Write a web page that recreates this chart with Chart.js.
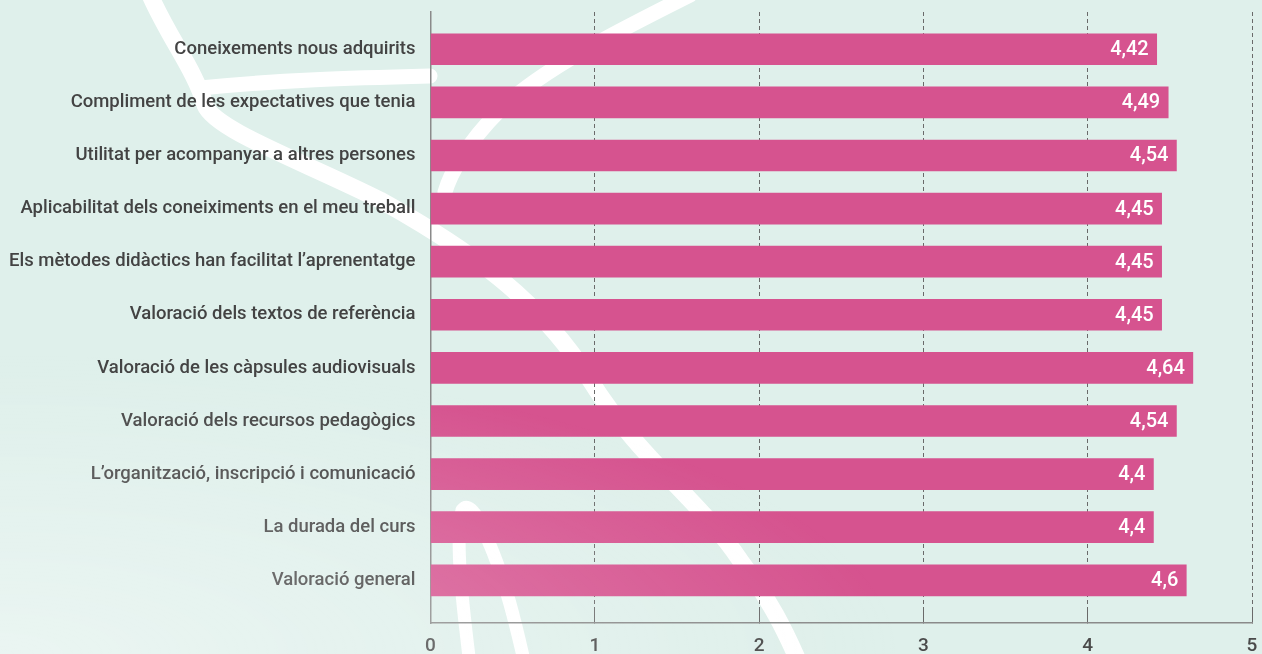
<!DOCTYPE html>
<html>
<head>
<meta charset="utf-8">
<script src="https://cdn.jsdelivr.net/npm/chart.js@4"></script>
<style>
html,body{margin:0;padding:0;}
body{width:1262px;height:654px;overflow:hidden;background:#dff0eb;position:relative;font-family:Roboto,sans-serif;}
#bg{position:absolute;left:0;top:0;}
#wrap{position:absolute;left:0;top:0;width:1262px;height:654px;}
#veil{position:absolute;left:0;top:0;width:1262px;height:654px;pointer-events:none;
  background:radial-gradient(ellipse 900px 300px at 0px 654px, rgba(255,255,255,0.36) 0%, rgba(255,255,255,0) 100%);}
</style>
</head>
<body>
<svg id="bg" width="1262" height="654" viewBox="0 0 1262 654">
  <g fill="none" stroke="#ffffff" stroke-linecap="round" stroke-linejoin="round">
    <path d="M150,-5 C170,40 195,70 205,105 C215,130 300,160 380,200 C470,250 540,300 590,380 C640,460 700,500 740,560 C770,600 785,630 800,665" stroke-width="17"/>
    <path d="M200,88 C280,80 350,78 430,76" stroke-width="15"/>
    <path d="M690,-5 C620,30 540,70 500,110 C465,145 450,175 445,192" stroke-width="15"/>
    <path d="M470,665 C462,600 455,540 462,510 C470,500 480,520 490,545 C505,580 515,620 525,665" stroke-width="13"/>
  </g>
</svg>
<div id="wrap"><canvas id="c" width="1262" height="654"></canvas></div>
<div id="veil"></div>
<script>
const categories = [
  "Coneixements nous adquirits",
  "Compliment de les expectatives que tenia",
  "Utilitat per acompanyar a altres persones",
  "Aplicabilitat dels coneiximents en el meu treball",
  "Els mètodes didàctics han facilitat l’aprenentatge",
  "Valoració dels textos de referència",
  "Valoració de les càpsules audiovisuals",
  "Valoració dels recursos pedagògics",
  "L’organització, inscripció i comunicació",
  "La durada del curs",
  "Valoració general"
];
const values = [4.42, 4.49, 4.54, 4.45, 4.45, 4.45, 4.64, 4.54, 4.4, 4.4, 4.6];
const xTicks = [0, 1, 2, 3, 4, 5];

const fmt = v => String(v).replace('.', ',');

const valueLabels = {
  id: 'valueLabels',
  afterDatasetsDraw(chart) {
    const ctx = chart.ctx;
    const meta = chart.getDatasetMeta(0);
    ctx.save();
    ctx.fillStyle = '#ffffff';
    ctx.font = '500 20px Roboto';
    ctx.textAlign = 'right';
    ctx.textBaseline = 'middle';
    meta.data.forEach((el, i) => {
      ctx.fillText(fmt(values[i]), el.x - 8, el.y + 1);
    });
    ctx.restore();
  }
};

new Chart(document.getElementById('c'), {
  type: 'bar',
  data: {
    datasets: [{
      data: values.map((v, i) => ({ x: v, y: i })),
      backgroundColor: '#d6538f',
      borderWidth: 0,
      barThickness: 31
    }]
  },
  options: {
    indexAxis: 'y',
    responsive: false,
    animation: false,
    layout: { padding: { left: 0, right: 10, top: 12, bottom: 0 } },
    plugins: { legend: { display: false }, tooltip: { enabled: false } },
    scales: {
      x: {
        type: 'linear',
        min: xTicks[0],
        max: xTicks[xTicks.length - 1],
        afterBuildTicks: s => { s.ticks = xTicks.map(v => ({ value: v })); },
        afterFit: s => { s.height = 31; s.paddingLeft = 0; s.paddingRight = 0; },
        grid: {
          color: '#6a6a6a',
          lineWidth: 1,
          drawTicks: true,
          tickLength: -12,
          tickColor: '#6a6a6a',
          tickBorderDash: []
        },
        border: { display: true, color: '#8a8a8a', width: 1.5, dash: [4, 3] },
        ticks: {
          padding: 24,
          color: '#4a4a4a',
          font: { family: 'Roboto', size: 19, weight: '500' }
        }
      },
      y: {
        type: 'linear',
        reverse: true,
        offset: false,
        min: -0.702,
        max: 10.804,
        afterBuildTicks: s => { s.ticks = categories.map((_, i) => ({ value: i })); },
        afterFit: s => { s.width = 430.5; s.paddingTop = 0; s.paddingBottom = 0; },
        grid: { display: false, drawTicks: false },
        border: { display: true, color: '#8a8a8a', width: 1.5 },
        ticks: {
          padding: 15,
          color: '#434343',
          font: { family: 'Roboto', size: 18.5, weight: '500' },
          callback: v => categories[v]
        }
      }
    }
  },
  plugins: [valueLabels]
});
</script>
</body>
</html>
